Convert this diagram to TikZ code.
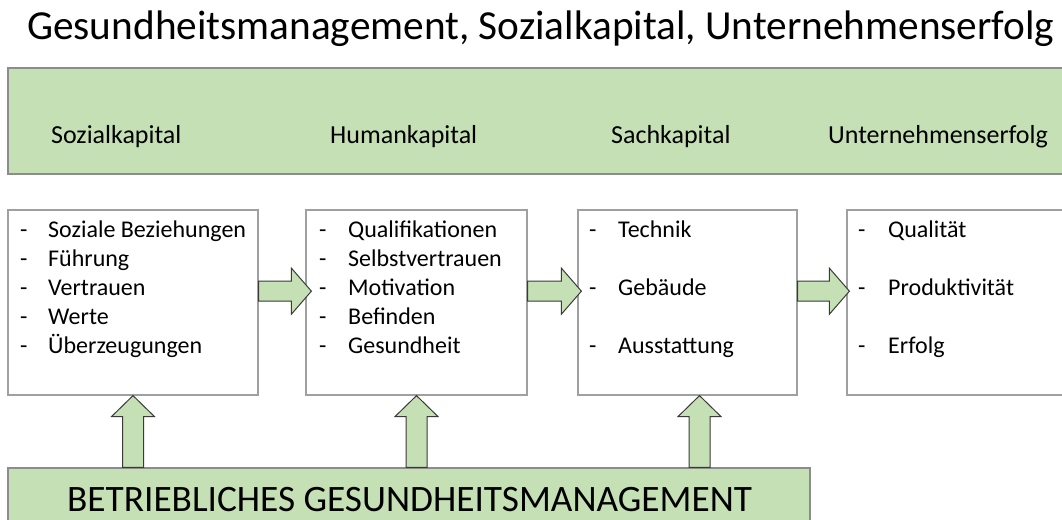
\documentclass[tikz,border=0pt]{standalone}
\usepackage{fontspec}
\setmainfont{Carlito}
\usetikzlibrary{calc}

\definecolor{bandgreen}{HTML}{C5E0B4}
\definecolor{bandline}{HTML}{8C8C8C}
\definecolor{boxline}{HTML}{A0A0A0}
\definecolor{arrowline}{HTML}{3A3A3A}

\tikzset{
  band/.style={draw=bandline, fill=bandgreen, line width=1.2pt, inner sep=0pt},
  listbox/.style={draw=boxline, fill=white, line width=1.2pt, inner sep=0pt},
  blockarrow/.style={draw=arrowline, fill=bandgreen, line width=1pt, line join=miter},
  titletext/.style={anchor=base west, inner sep=0pt, font=\fontsize{41.3}{48}\selectfont},
  headtext/.style={anchor=base west, inner sep=0pt, font=\fontsize{26}{31}\selectfont},
  itemtext/.style={anchor=base west, inner sep=0pt, font=\fontsize{24}{28}\selectfont},
  bgmtext/.style={anchor=base west, inner sep=0pt, font=\fontsize{37.3}{43}\selectfont},
}

% fat arrow pointing right, from #1 to the tip #2
\newcommand{\rightblock}[2]{%
  \draw[blockarrow] let \p1=(#1), \p2=(#2) in
    (\x1,\y1+10pt) -- (\x2-20pt,\y1+10pt) -- (\x2-20pt,\y1+23pt) -- (\x2,\y1)
    -- (\x2-20pt,\y1-23pt) -- (\x2-20pt,\y1-10pt) -- (\x1,\y1-10pt) -- cycle;}

% fat arrow pointing up, from #1 to the tip #2
\newcommand{\upblock}[2]{%
  \draw[blockarrow] let \p1=(#1), \p2=(#2) in
    (\x1-10.5pt,\y1) -- (\x1-10.5pt,\y2-21pt) -- (\x1-21.5pt,\y2-21pt) -- (\x1,\y2)
    -- (\x1+21.5pt,\y2-21pt) -- (\x1+10.5pt,\y2-21pt) -- (\x1+10.5pt,\y1) -- cycle;}

\begin{document}
\begin{tikzpicture}[x=1pt, y=-1pt]

\useasboundingbox (0,0) rectangle (1062,519);
\clip (0,0) rectangle (1062,519);

% Title
\path
(27,40) node[titletext] (title) {Gesundheitsmanagement, Sozialkapital, Unternehmenserfolg};


%
% Green band with the four headings
%
\node[band, minimum width=1070, minimum height=106] (top) at (543,121) {};

\path
(51,143) node[headtext] (shead) {Sozialkapital};
\path
(330,143) node[headtext] (hhead) {Humankapital};
\path
(611,143) node[headtext] (chead) {Sachkapital};
\path
(828,143) node[headtext] (uhead) {Unternehmenserfolg};


%
% The four list boxes
%
\node[listbox, minimum width=250, minimum height=185] (s) at (133,302.5) {};
\node[listbox, minimum width=221, minimum height=185] (h) at (416.5,302.5) {};
\node[listbox, minimum width=219, minimum height=185] (c) at (687.5,302.5) {};
\node[listbox, minimum width=230, minimum height=185] (u) at (962,302.5) {};


% Sozialkapital
\foreach \txt [count=\i] in {Soziale Beziehungen, Führung, Vertrauen, Werte, Überzeugungen}{
  \node[itemtext] (sd\i) at (20,208+29*\i) {-};
  \node[itemtext] (st\i) at (48,208+29*\i) {\txt};
}

% Humankapital
\foreach \txt [count=\i] in {Qualifikationen, Selbstvertrauen, Motivation, Befinden, Gesundheit}{
  \node[itemtext] (hd\i) at (319,208+29*\i) {-};
  \node[itemtext] (ht\i) at (348,208+29*\i) {\txt};
}

% Sachkapital
\foreach \txt/\i in {Technik/1, Gebäude/3, Ausstattung/5}{
  \node[itemtext] (cd\i) at (589,208+29*\i) {-};
  \node[itemtext] (ct\i) at (618,208+29*\i) {\txt};
}

% Unternehmenserfolg
\foreach \txt/\i in {Qualität/1, Produktivität/3, Erfolg/5}{
  \node[itemtext] (ud\i) at (858,208+29*\i) {-};
  \node[itemtext] (ut\i) at (888,208+29*\i) {\txt};
}


%
% BGM band at the bottom
%
\node[band, minimum width=802, minimum height=70] (bgm) at (409,503) {};

\path
(67,511) node[bgmtext] (bgmlabel) {BETRIEBLICHES GESUNDHEITSMANAGEMENT};


% Arrows between the boxes
\rightblock{s.east |- hd3}{$(h.west |- hd3)+(6,0)$}
\rightblock{h.east |- cd3}{$(c.west |- cd3)+(4,0)$}
\rightblock{c.east |- ud3}{$(u.west |- ud3)+(3,0)$}

% Arrows up from the BGM band
\upblock{bgm.north -| s.south}{s.south}
\upblock{bgm.north -| h.south}{h.south}
\upblock{$(bgm.north -| c.south)+(12,0)$}{$(c.south)+(12,0)$}

\end{tikzpicture}
\end{document}
